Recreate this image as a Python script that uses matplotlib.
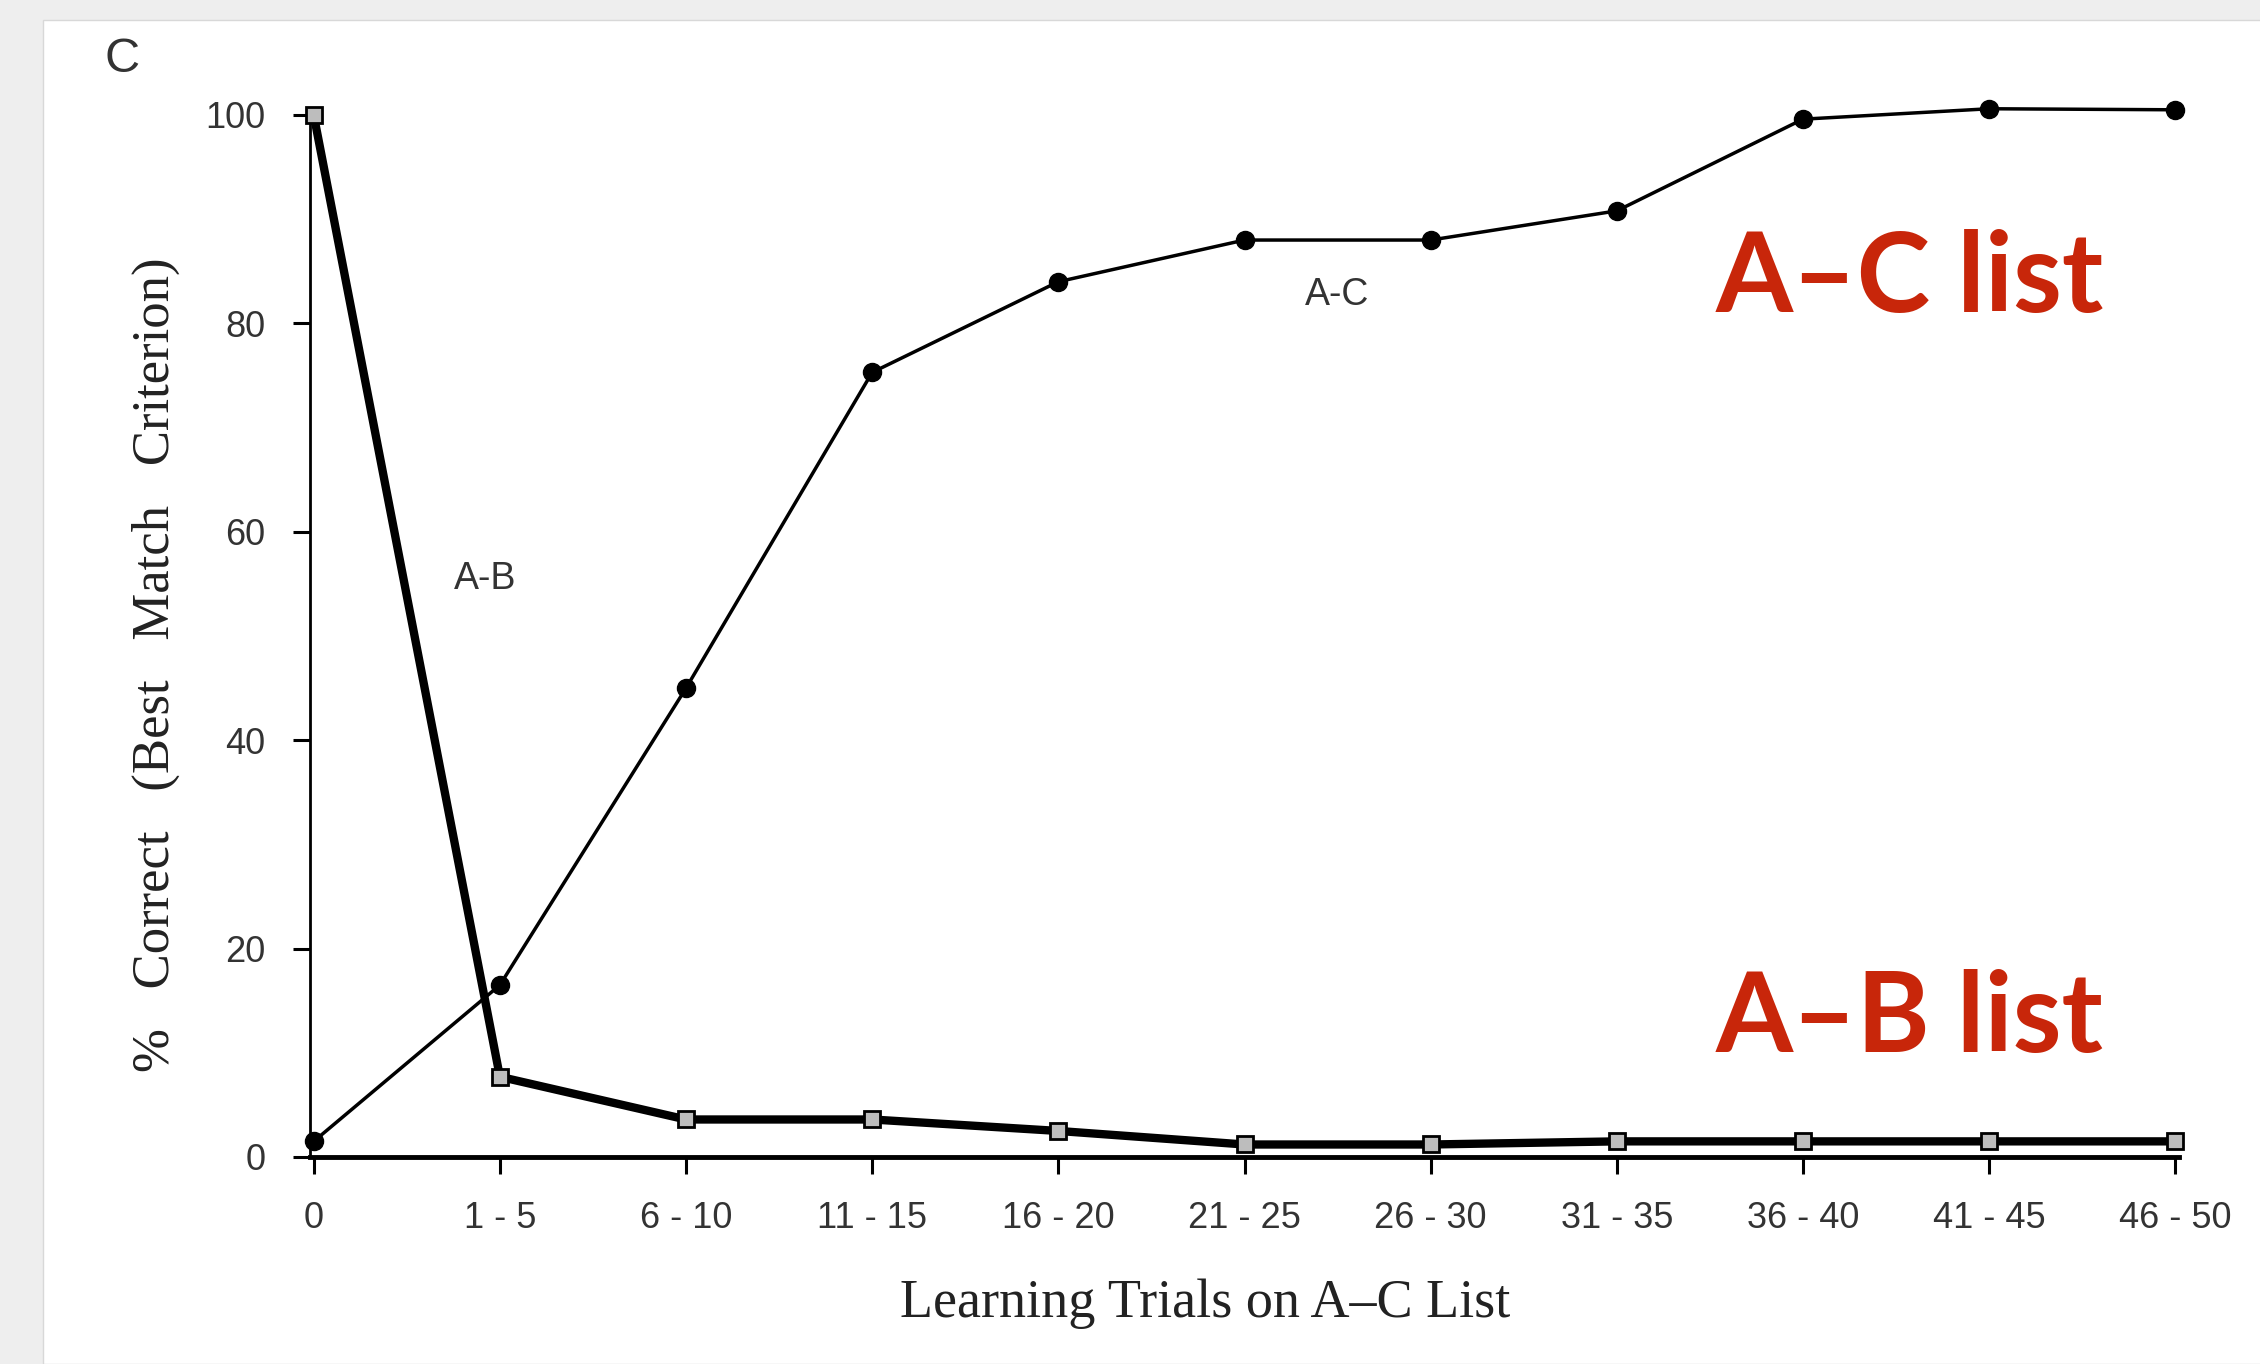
import matplotlib
matplotlib.use("Agg")
import matplotlib.pyplot as plt
from matplotlib.patches import Rectangle

# ─── data ────────────────────────────────────────────────────────────────────
trial_blocks = ["0", "1 - 5", "6 - 10", "11 - 15", "16 - 20", "21 - 25",
                "26 - 30", "31 - 35", "36 - 40", "41 - 45", "46 - 50"]
ac_correct = [1.5, 16.5, 45, 75.3, 84, 88, 88, 90.8, 99.6, 100.6, 100.5]
ab_correct = [100, 7.7, 3.6, 3.6, 2.5, 1.2, 1.2, 1.5, 1.5, 1.5, 1.5]
y_ticks = [0, 20, 40, 60, 80, 100]

W, H = 2260, 1364
fig = plt.figure(figsize=(W / 100, H / 100), dpi=100, facecolor="#eeeeee")

# white "page" the scan sits on
fig.patches.append(Rectangle((43 / W, 0), 1, 1 - 20 / H, transform=fig.transFigure,
                             facecolor="white", edgecolor="#d8d8d8", lw=1.0, zorder=-5))

ax = fig.add_axes([310 / W, 1 - 1157 / H, (2179 - 310) / W, (1157 - 115) / H])
ax.set_zorder(2)
ax.set_facecolor("none")
x = list(range(len(trial_blocks)))

# A-B: thick line, small open squares
ax.plot(x, ab_correct, color="black", lw=6, marker="s", ms=11, mfc="#bdbdbd",
        mec="black", mew=2, clip_on=False, zorder=3)
# A-C: thin line, filled circles
ax.plot(x, ac_correct, color="black", lw=2.5, marker="o", ms=13, mfc="black",
        mec="black", clip_on=False, zorder=4)

ax.set_xlim(-0.02, 10.02)
ax.set_ylim(0, 100)
ax.set_xticks(x)
ax.set_xticklabels(trial_blocks)
ax.set_yticks(y_ticks)

for side in ("top", "right"):
    ax.spines[side].set_visible(False)
ax.spines["left"].set_linewidth(2)
ax.spines["bottom"].set_linewidth(3.5)
ax.tick_params(axis="both", direction="out", length=12, width=2.2, color="black",
               labelsize=26, labelcolor="#333333")
ax.tick_params(axis="x", pad=20)
ax.tick_params(axis="y", pad=20)
for lbl in ax.get_xticklabels() + ax.get_yticklabels():
    lbl.set_family("Liberation Sans")

# inline series labels
ax.text(0.92, 55.5, "A-B", fontsize=27, family="Liberation Sans", color="#333333",
        ha="center", va="center")
ax.text(5.5, 82.7, "A-C", fontsize=27, family="Liberation Sans", color="#333333",
        ha="center", va="center")

# axis titles (serif, like the original print)
fig.text(1205 / W, 1 - 1304 / H, "Learning Trials on A\u2013C List",
         fontsize=39, family="Liberation Serif", color="#222222", ha="center", va="center")
fig.text(156 / W, 1 - 665 / H, "%   Correct   (Best   Match   Criterion)",
         fontsize=38, family="Liberation Serif", color="#222222", ha="center", va="center",
         rotation=90)

# panel letter
fig.text(122 / W, 1 - 60 / H, "C", fontsize=35, family="Liberation Sans", color="#333333",
         ha="center", va="center")

# red annotations
red = "#c8260a"
for label, ypos in [("A\u2013C list", 280), ("A\u2013B list", 1020)]:
    fig.text(1910 / W, 1 - ypos / H, label, fontsize=80, fontweight="bold",
             family=["Lato", "DejaVu Sans"], color=red, ha="center", va="center")

fig.savefig("out.png", dpi=100, facecolor=fig.get_facecolor())
